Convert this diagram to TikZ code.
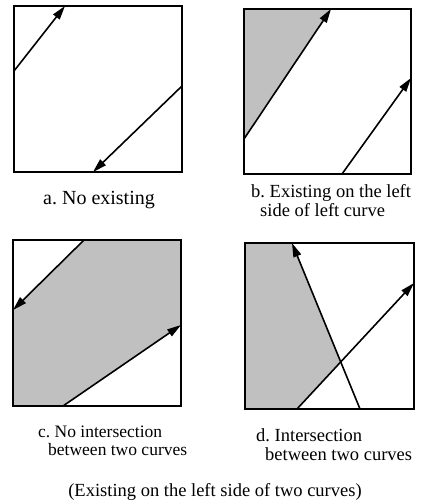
\documentclass[tikz,border=0pt]{standalone}
\usepackage{fontspec}
\setmainfont{Liberation Serif}
\usetikzlibrary{arrows.meta}
\definecolor{region}{RGB}{192,192,192}
\frenchspacing

\begin{document}
\begin{tikzpicture}[x=1pt,y=-1pt,
    frame/.style={draw,line width=1.3pt},
    curve/.style={line width=1.6pt,-{Triangle[length=14pt,width=8pt]}},
    caption/.style={anchor=base west,align=left,inner sep=0pt,font=\fontsize{18.5}{19}\selectfont}]
    \useasboundingbox (0,0) rectangle (425,502);
    % a. No existing
    \coordinate (a1) at (14,71);   \coordinate (a2) at (65,6);
    \coordinate (a3) at (182,86);  \coordinate (a4) at (93,172);
    \draw[frame] (14,6) rectangle (182,172);
    \draw[curve] (a1)--(a2);
    \draw[curve] (a3)--(a4);
    \node[caption,font=\fontsize{20}{19}\selectfont] (la) at (43,205) {a. No existing};
    % b. left of left curve
    \coordinate (b1) at (244,139); \coordinate (b2) at (331,9);
    \coordinate (b3) at (342,174); \coordinate (b4) at (411,78);
    \fill[region] (244,9) -- (b2) -- (b1) -- cycle;
    \draw[frame] (244,9) rectangle (411,174);
    \draw[curve] (b1)--(b2);
    \draw[curve] (b3)--(b4);
    \node[caption] (lb) at (251,217) {b. Existing on the left\\\hspace*{9pt}side of left curve};
    % c. no intersection
    \coordinate (c1) at (84,240);  \coordinate (c2) at (13,310);
    \coordinate (c3) at (63,406);  \coordinate (c4) at (181,325);
    \fill[region] (c1) -- (181,240) -- (c4) -- (c3) -- (13,406) -- (c2) -- cycle;
    \draw[frame] (13,240) rectangle (181,406);
    \draw[curve] (c1)--(c2);
    \draw[curve] (c3)--(c4);
    \node[caption,font=\fontsize{17.5}{18}\selectfont] (lc) at (38,455) {c. No intersection\\\hspace*{10pt}between two curves};
    % d. intersection
    \coordinate (d1) at (360,409); \coordinate (d2) at (292,243);
    \coordinate (d3) at (297,409); \coordinate (d4) at (414,283);
    \coordinate (dx) at (intersection of d1--d2 and d3--d4);
    \fill[region] (245,243) -- (d2) -- (dx) -- (d3) -- (245,409) -- cycle;
    \draw[frame] (245,243) rectangle (414,409);
    \draw[curve] (d1)--(d2);
    \draw[curve] (d3)--(d4);
    \node[caption] (ld) at (256,460) {d. Intersection\\\hspace*{9pt}between two curves};
    % common caption
    \node[caption,anchor=base] (lall) at (215,496) {(Existing on the left side of two curves)};
\end{tikzpicture}
\end{document}
